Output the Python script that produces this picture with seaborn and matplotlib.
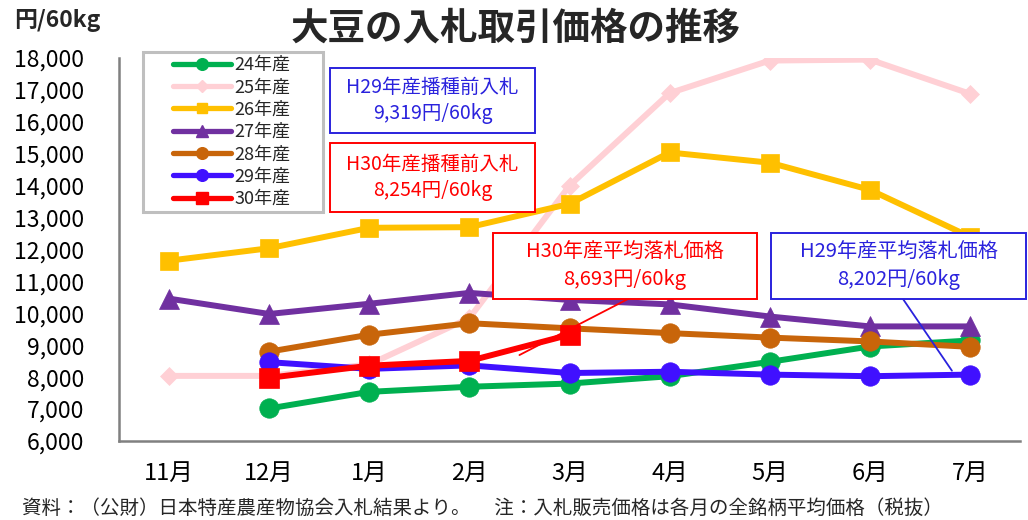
import numpy as np
import pandas as pd
import matplotlib
matplotlib.use("Agg")
import matplotlib.pyplot as plt
from matplotlib.lines import Line2D
from matplotlib.patches import Rectangle
import seaborn as sns

# ---- data ----
months = ["11月", "12月", "1月", "2月", "3月", "4月", "5月", "6月", "7月"]
nan = np.nan
s24 = [nan, 7020, 7540, 7700, 7800, 8030, 8480, 8960, 9150]
s25 = [8040, 8040, 8400, 9850, 14000, 16900, 17920, 17950, 16880]
s26 = [11650, 12040, 12680, 12700, 13430, 15040, 14720, 13870, 12400]
s27 = [10460, 9980, 10300, 10640, 10420, 10280, 9900, 9590, 9590]
s28 = [nan, 8800, 9330, 9690, 9530, 9380, 9240, 9120, 8950]
s29 = [nan, 8470, 8260, 8370, 8130, 8170, 8080, 8030, 8080]
s30 = [nan, 7980, 8360, 8510, 9330, nan, nan, nan, nan]
series_names = ["24年産", "25年産", "26年産", "27年産", "28年産", "29年産", "30年産"]
series_vals = [s24, s25, s26, s27, s28, s29, s30]
yticks_vals = list(range(6000, 18001, 1000))

title = "大豆の入札取引価格の推移"
unit = "円/60kg"
footer = "資料：（公財）日本特産農産物協会入札結果より。　 注：入札販売価格は各月の全銘柄平均価格（税抜）"
box_texts = ["H29年産播種前入札\n9,319円/60kg", "H30年産播種前入札\n8,254円/60kg",
             "H30年産平均落札価格\n8,693円/60kg", "H29年産平均落札価格\n8,202円/60kg"]
h30_avg = 8693
h29_avg = 8202

# ---- styles ----
colors = ["#00B050", "#FFD0D5", "#FFC000", "#7030A0", "#C8650A", "#4010FF", "#FF0000"]
markers = ["o", "D", "s", "^", "o", "o", "s"]
msizes = [14, 9.5, 13, 14, 14, 14, 14]

sns.set_theme(style="white")
plt.rcParams["font.family"] = ["Noto Sans CJK JP", "DejaVu Sans"]

W, H = 1028, 520
fig = plt.figure(figsize=(W / 100, H / 100), dpi=100)
ax = fig.add_axes([119 / W, 79 / H, 901 / W, 383 / H])

x = np.arange(len(months))
for name, vals, c, m, ms in zip(series_names, series_vals, colors, markers, msizes):
    df = pd.DataFrame({"x": x, "y": vals}).dropna()
    sns.lineplot(data=df, x="x", y="y", ax=ax, color=c, marker=m, markersize=ms,
                 linewidth=4.3, markeredgecolor=c, markeredgewidth=0.5, legend=False)

ax.set_xlim(-0.5, len(months) - 0.5)
ax.set_ylim(yticks_vals[0], yticks_vals[-1])
ax.set_xlabel("")
ax.set_ylabel("")

grey = "#808080"
for sp in ["top", "right"]:
    ax.spines[sp].set_visible(False)
for sp in ["left", "bottom"]:
    ax.spines[sp].set_color(grey)
    ax.spines[sp].set_linewidth(1.8)

ax.set_yticks(yticks_vals)
ax.set_yticklabels([f"{v:,}" for v in yticks_vals])
ax.tick_params(axis="y", direction="in", length=6, width=1.3, color=grey,
               labelsize=16.5, pad=25, labelcolor="black")
ax.set_xticks(np.arange(-0.5, len(months), 1))
ax.set_xticklabels([])
ax.tick_params(axis="x", which="major", direction="in", length=6, width=1.3, color=grey)
ax.set_xticks(x, minor=True)
ax.set_xticklabels(months, minor=True)
ax.tick_params(axis="x", which="minor", length=0, labelsize=17, pad=15, labelcolor="black")

# legend (frame drawn separately)
fig.patches.append(Rectangle((143 / W, 1 - 212 / H), 180 / W, 160 / H, transform=fig.transFigure,
                             facecolor="white", edgecolor="#BFBFBF", linewidth=2.2, zorder=4))
handles = [Line2D([0], [0], color=c, lw=3.8, marker=m, markersize=ms * 0.6,
                  markeredgecolor=c) for c, m, ms in zip(colors, markers, msizes)]
leg = fig.legend(handles, series_names, loc="upper left", bbox_to_anchor=(173 / W, 1 - 56 / H),
                 bbox_transform=fig.transFigure, frameon=False,
                 fontsize=13, handlelength=3.2, labelspacing=0.24, borderpad=0,
                 handletextpad=0.2, borderaxespad=0)
leg.set_zorder(6)

# titles
fig.text(516 / W, 1 - 28 / H, title, ha="center", va="center", fontsize=27, fontweight="bold")
fig.text(14 / W, 1 - 20 / H, unit, ha="left", va="center", fontsize=16.5, fontweight="bold")
fig.text(22 / W, 1 - 508 / H, footer, ha="left", va="center", fontsize=14)

# annotation boxes (pixel positions)
blue = "#2A22DD"
red = "#FF0000"
boxes = [(330, 68, 535, 133, blue), (330, 143, 535, 212, red),
         (493, 233, 757, 299, red), (771, 233, 1026, 299, blue)]
for (x0, y0, x1, y1, c), t in zip(boxes, box_texts):
    fig.patches.append(Rectangle((x0 / W, 1 - y1 / H), (x1 - x0) / W, (y1 - y0) / H,
                                 transform=fig.transFigure, facecolor="white",
                                 edgecolor=c, linewidth=1.4, zorder=5))
    fs = 14.5 if "平均" in t else 14
    fig.text((x0 + x1) / 2 / W, 1 - (y0 + y1) / 2 / H, t, ha="center", va="center",
             color=c, fontsize=fs, linespacing=1.35, zorder=6)

ax.annotate("", xy=(3.5, h30_avg), xycoords="data", xytext=(628 / W, 1 - 299 / H),
            textcoords="figure fraction",
            arrowprops=dict(arrowstyle="-", color=red, lw=1.3, shrinkA=0, shrinkB=0))
ax.annotate("", xy=(7.82, h29_avg), xycoords="data", xytext=(903 / W, 1 - 299 / H),
            textcoords="figure fraction",
            arrowprops=dict(arrowstyle="-", color=blue, lw=1.3, shrinkA=0, shrinkB=0))

fig.savefig("out.png", dpi=100)
